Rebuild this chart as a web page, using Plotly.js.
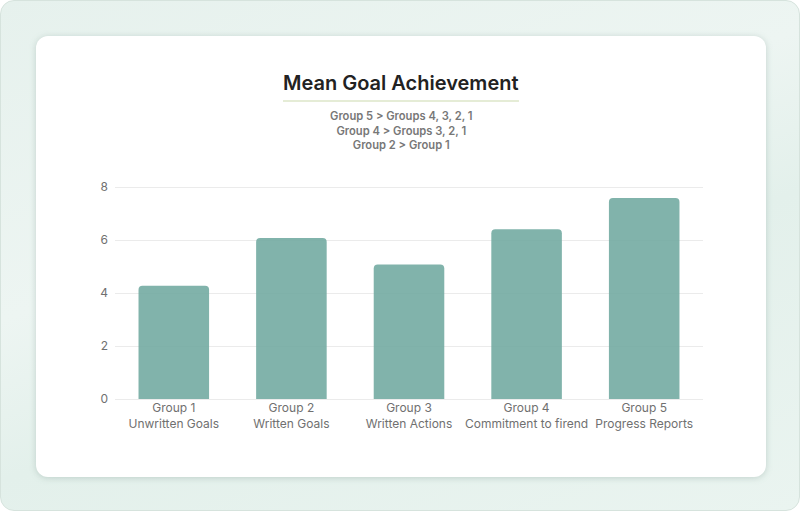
<!DOCTYPE html>
<html>
<head>
<meta charset="utf-8">
<script src="https://cdn.plot.ly/plotly-3.0.1.min.js"></script>
<style>
  html, body { margin: 0; padding: 0; }
  body {
    width: 800px; height: 511px; overflow: hidden;
    background: #fff;
  }
  .frame {
    position: absolute; left: 0; top: 0;
    width: 798px; height: 509px;
    border: 1px solid #d6e3dd;
    border-radius: 14px;
    background: linear-gradient(160deg, #e6f1ed 0%, #edf5f2 40%, #e3f0eb 60%, #eaf4f0 100%);
    overflow: hidden;
  }
  .card {
    position: absolute; left: 35px; top: 35px;
    width: 730px; height: 441px;
    background: #fff;
    border-radius: 12px;
    box-shadow: 0 1px 6px rgba(120, 150, 140, 0.35);
  }
  #chart { width: 730px; height: 441px; }
</style>
</head>
<body>
<div class="frame">
  <div class="card"><div id="chart"></div></div>
</div>
<script>
// mean goal achievement per group
var groups = ['Group 1', 'Group 2', 'Group 3', 'Group 4', 'Group 5'];
var labels = ['Unwritten Goals', 'Written Goals', 'Written Actions', 'Commitment to firend', 'Progress Reports'];
var means = [4.28, 6.08, 5.08, 6.41, 7.60];
var yTicks = [0, 2, 4, 6, 8];

var subtitle = [
  'Group 5 > Groups 4, 3, 2, 1',
  'Group 4 > Groups 3, 2, 1',
  'Group 2 > Group 1'
];

var cats = groups.map(function (g, i) {
  return g + '<br>' + labels[i];
});

var data = [{
  type: 'bar',
  x: cats,
  y: means,
  width: 0.6,
  marker: {
    color: 'rgba(111, 168, 159, 0.88)',
    cornerradius: 4
  },
  hoverinfo: 'x+y'
}];

var layout = {
  width: 730,
  height: 441,
  margin: { l: 79, r: 63, t: 146, b: 78 },
  paper_bgcolor: 'rgba(0,0,0,0)',
  plot_bgcolor: '#fff',
  font: { family: 'Inter, "Noto Sans", sans-serif', size: 12, color: '#707070' },
  showlegend: false,
  xaxis: {
    showgrid: false,
    zeroline: false,
    showline: false,
    ticks: '',
    ticklabelstandoff: 0,
    tickfont: { size: 12, color: '#707070' }
  },
  yaxis: {
    range: [0, 8.2],
    tickvals: yTicks,
    showgrid: true,
    gridcolor: '#ebebeb',
    gridwidth: 1,
    zeroline: true,
    zerolinecolor: '#ebebeb',
    showline: false,
    ticks: '',
    ticklen: 0,
    ticklabelstandoff: 6,
    tickfont: { size: 12, color: '#707070' }
  },
  annotations: [
    {
      text: 'Mean Goal Achievement',
      xref: 'paper', yref: 'paper',
      x: 0.4864, y: 1.456,
      xanchor: 'center', yanchor: 'middle',
      showarrow: false,
      font: { size: 20, color: '#222', family: 'Inter, sans-serif', weight: 600 }
    },
    {
      text: subtitle.join('<br>'),
      xref: 'paper', yref: 'paper',
      x: 0.4864, y: 1.237,
      xanchor: 'center', yanchor: 'middle',
      showarrow: false,
      font: { size: 11.2, color: '#777', family: 'Inter, sans-serif', weight: 600 }
    }
  ],
  shapes: [{
    type: 'line',
    xref: 'paper', yref: 'paper',
    x0: 0.2857, x1: 0.687,
    y0: 1.373, y1: 1.373,
    line: { color: '#dde6c8', width: 1.5 }
  }]
};

Plotly.newPlot('chart', data, layout, { displayModeBar: false, staticPlot: true });
</script>
</body>
</html>
